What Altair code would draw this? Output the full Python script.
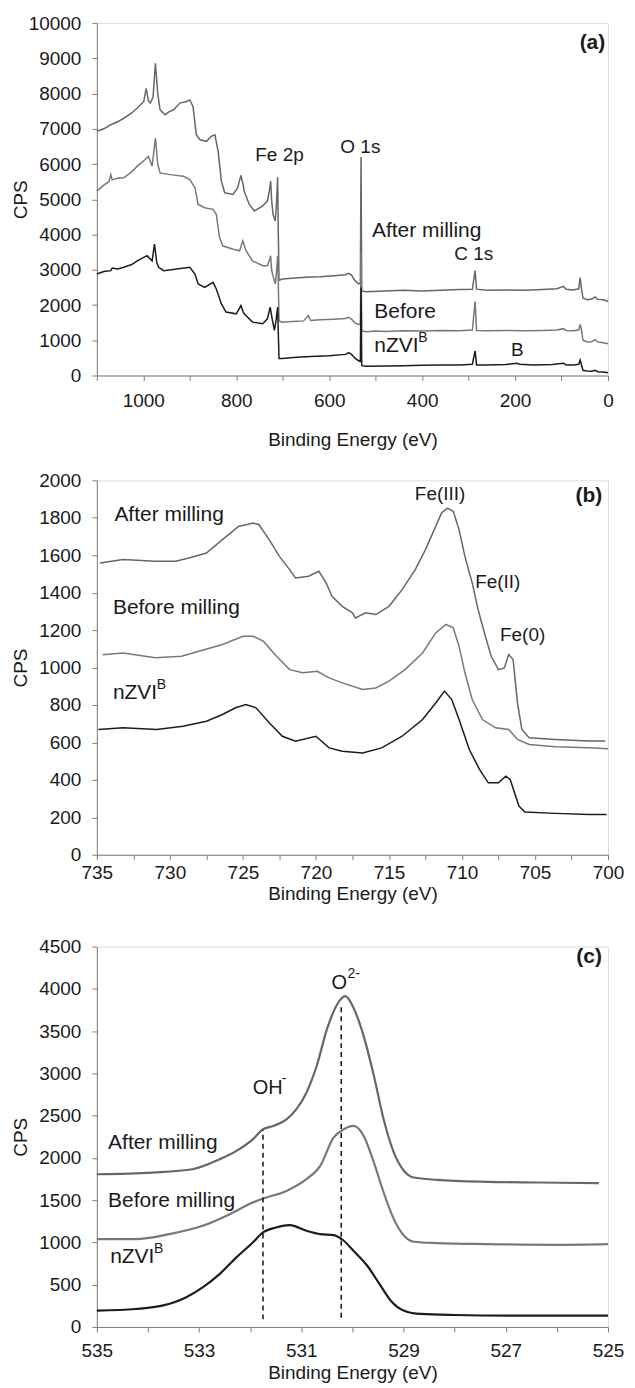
import altair as alt
import pandas as pd

FONT = "Liberation Sans"
C_AFTER = "#676767"
C_BEFORE = "#787878"
C_NZVI = "#1c1c1c"
TXT = "#1a1a1a"

# ---------------- Panel (a): survey ----------------
a_after_x = [1100, 1085, 1070, 1055, 1042, 1025, 1013, 999, 994, 989, 985, 979, 974, 969, 964, 953, 945, 935, 921, 907,
             900, 893, 886, 878, 864, 854, 846, 839, 832, 825, 807, 797, 790, 785, 783, 772, 761, 743, 733, 728,
             726, 724, 721, 716, 713, 711, 709.5, 708, 701, 680, 650, 620, 590, 565, 558, 552, 545, 537, 533, 531.5,
             530, 520, 480, 440, 400, 360, 320, 292, 286, 283, 260, 220, 180, 140, 110, 96, 90, 75, 63, 60,
             57, 54, 45, 35, 28, 22, 10, 0]
a_after_y = [6930, 7000, 7115, 7200, 7300, 7450, 7590, 7775, 8150, 7800, 7730, 7900, 8860, 8000, 7540, 7400, 7480, 7540, 7730, 7775,
             7820, 7630, 6830, 6690, 6645, 6785, 6830, 6360, 5515, 5185, 5140, 5330, 5680, 5400, 5235, 4855, 4670, 4810, 4950, 5300,
             5515, 5000, 4575, 4385, 5000, 5630, 4000, 2700, 2740, 2760, 2790, 2800, 2830, 2860, 2900, 2850, 2700, 2600, 2620, 6200,
             2400, 2380, 2400, 2420, 2400, 2420, 2440, 2450, 2980, 2450, 2420, 2430, 2420, 2440, 2460, 2530, 2450, 2430, 2460, 2780,
             2450, 2200, 2150, 2170, 2230, 2160, 2150, 2100]

a_before_x = [1100, 1085, 1074, 1070, 1067, 1055, 1042, 1025, 1013, 996, 989, 981, 974, 969, 964, 942, 914, 900, 889, 882,
              868, 850, 843, 836, 829, 807, 793, 786, 779, 765, 743, 733, 728, 726, 724, 721, 716, 713, 711, 709.5,
              708, 701, 680, 655, 645, 640, 620, 590, 565, 558, 552, 545, 537, 533, 531.5, 530, 520, 500, 480, 440,
              400, 360, 320, 292, 286, 283, 260, 220, 180, 140, 110, 96, 90, 75, 63, 60, 57, 54, 45, 35,
              28, 22, 10, 0]
a_before_y = [5233, 5400, 5500, 5700, 5550, 5600, 5610, 5780, 5940, 6130, 6220, 5940, 6740, 6000, 5750, 5700, 5655, 5560, 5330, 4855,
              4760, 4715, 4575, 3915, 3680, 3585, 3540, 3820, 3540, 3255, 3115, 3115, 3300, 3400, 3000, 2830, 2600, 3000, 3400, 2600,
              1550, 1515, 1530, 1550, 1700, 1560, 1580, 1600, 1620, 1650, 1600, 1500, 1450, 1460, 3500, 1260, 1240, 1260, 1250, 1270,
              1260, 1280, 1270, 1290, 2100, 1280, 1270, 1280, 1270, 1280, 1290, 1330, 1280, 1270, 1290, 1450, 1280, 1000, 950, 960,
              1020, 950, 930, 900]

a_nzvi_x = [1100, 1085, 1070, 1067, 1055, 1042, 1025, 1013, 992, 981, 976, 971, 967, 956, 928, 900, 889, 882, 868, 850,
            843, 832, 822, 800, 790, 785, 783, 765, 743, 733, 727, 724, 722, 718, 714, 711, 709.5, 708, 701, 670,
            640, 600, 565, 558, 552, 545, 537, 533, 531.5, 530, 520, 480, 440, 400, 360, 320, 292, 286, 283, 260,
            220, 196, 190, 160, 120, 96, 90, 75, 63, 60, 57, 54, 45, 35, 28, 22, 10, 0]
a_nzvi_y = [2880, 2950, 2975, 3050, 3020, 3070, 3150, 3255, 3400, 3255, 3730, 3200, 3070, 2975, 3020, 3070, 2880, 2600, 2500, 2645,
            2455, 2030, 1800, 1750, 1985, 1800, 1750, 1515, 1470, 1610, 1940, 1700, 1560, 1280, 1600, 1940, 1200, 480, 480, 520,
            540, 560, 600, 650, 600, 500, 420, 400, 2500, 280, 260, 270, 280, 290, 300, 300, 320, 700, 300, 300,
            310, 350, 320, 300, 310, 350, 300, 300, 320, 440, 300, 150, 130, 120, 150, 110, 100, 80]

# ---------------- Panel (b): Fe 2p ----------------
b_after_x = [734.8, 733.2, 731.0, 729.6, 728.7, 727.5, 726.4, 725.3, 724.3, 723.9, 723.2, 722.5, 721.8, 721.4, 720.5, 719.8,
             719.3, 718.9, 718.2, 717.5, 717.3, 716.6, 715.9, 715.0, 714.1, 713.2, 712.5, 711.8, 711.4, 711.0, 710.6, 710.2,
             709.8, 709.3, 708.9, 708.4, 708.0, 707.5, 707.1, 706.8, 706.5, 706.2, 705.9, 705.4, 703.6, 701.3, 700.2]
b_after_y = [1559, 1577, 1568, 1568, 1585, 1612, 1683, 1754, 1772, 1763, 1683, 1594, 1523, 1479, 1488, 1514,
             1452, 1381, 1327, 1292, 1265, 1292, 1283, 1327, 1416, 1523, 1630, 1754, 1826, 1852, 1835, 1737,
             1594, 1452, 1310, 1167, 1060, 989, 998, 1070, 1043, 811, 669, 625, 616, 607, 607]

b_before_x = [734.6, 733.2, 731.0, 729.2, 727.6, 726.4, 725.0, 724.3, 723.6, 722.7, 721.8, 720.9, 719.9, 719.1, 718.2, 716.8,
              715.9, 715.0, 713.9, 712.7, 711.8, 711.1, 710.6, 710.2, 709.8, 709.3, 708.6, 707.7, 706.8, 706.2, 705.4, 703.6,
              701.3, 700.0]
b_before_y = [1069, 1078, 1052, 1060, 1096, 1123, 1167, 1167, 1141, 1060, 989, 972, 980, 945, 918, 883,
              891, 927, 989, 1078, 1185, 1230, 1212, 1114, 972, 829, 722, 678, 669, 616, 589, 577,
              571, 566]

b_nzvi_x = [734.9, 733.2, 730.9, 729.1, 727.5, 726.4, 725.5, 724.8, 724.1, 723.2, 722.3, 721.4, 720.0, 719.1, 718.2, 716.8,
            715.5, 714.1, 712.7, 711.8, 711.2, 710.7, 710.2, 709.5, 708.8, 708.2, 707.5, 707.0, 706.7, 706.1, 705.7, 703.6,
            701.3, 700.1]
b_nzvi_y = [669, 678, 669, 687, 713, 749, 785, 802, 785, 705, 633, 607, 633, 571, 553, 544,
            571, 633, 722, 811, 874, 829, 722, 562, 456, 384, 384, 420, 402, 260, 228, 221,
            215, 215]

# ---------------- Panel (c): O 1s ----------------
c_after_x = [535.0, 533.92, 533.13, 532.6, 532.27, 531.95, 531.75, 531.55, 531.29, 531.1, 530.9, 530.7, 530.5,
             530.3, 530.14, 529.98, 529.78, 529.58, 529.39, 529.19, 528.99, 528.8, 528.34, 527.35, 526.37, 525.18]
c_after_y = [1807, 1827, 1866, 1984, 2083, 2220, 2339, 2378, 2457, 2575, 2772, 3087, 3520,
             3815, 3913, 3776, 3441, 2969, 2457, 2063, 1846, 1768, 1740, 1717, 1709, 1701]

c_before_x = [535.0, 534.24, 533.59, 532.93, 532.4, 531.95, 531.75, 531.29, 530.9, 530.63, 530.37, 530.17, 529.98,
              529.78, 529.58, 529.39, 529.19, 528.99, 528.8, 528.34, 527.35, 526.04, 525.0]
c_before_y = [1039, 1039, 1098, 1197, 1335, 1472, 1520, 1610, 1748, 1906, 2240, 2339, 2378,
              2260, 1945, 1591, 1276, 1079, 1008, 992, 980, 972, 980]

c_nzvi_x = [535.0, 534.24, 533.72, 533.26, 532.93, 532.6, 532.27, 531.95, 531.75, 531.49, 531.23, 530.9, 530.63,
            530.37, 530.17, 529.98, 529.71, 529.45, 529.25, 528.99, 528.66, 528.0, 526.69, 525.0]
c_nzvi_y = [193, 213, 252, 350, 469, 626, 823, 1000, 1118, 1177, 1205, 1138, 1098,
            1087, 1020, 902, 724, 488, 311, 193, 154, 142, 134, 134]

c_ref_x = [531.75, 530.22]
c_ref_y0 = [90, 110]
c_ref_y1 = [2330, 3800]

SERIES = ["After milling", "Before milling", "nZVI"]
COLORS = [C_AFTER, C_BEFORE, C_NZVI]
W = 512
TICK_FS = 19
TITLE_FS = 19
ANN_FS = 21


def series_df(pairs):
    rows = []
    for name, xs, ys in pairs:
        for i, (x, y) in enumerate(zip(xs, ys)):
            rows.append({"x": x, "y": y, "s": name, "i": i})
    return pd.DataFrame(rows)


class Panel:
    def __init__(self, xdom, ydom, xvals, label_mod, label_rem, yvals, lab_pad_x, title_pad_x):
        self.xdom, self.ydom = xdom, ydom
        self.xaxis = alt.Axis(values=xvals, format="d",
                              labelExpr=f"datum.value % {label_mod} == {label_rem} ? datum.label : ''",
                              grid=False, tickSize=5, tickColor="#808080", domainColor="#808080",
                              labelFont=FONT, labelFontSize=TICK_FS, labelColor=TXT, labelPadding=lab_pad_x,
                              titleFont=FONT, titleFontSize=TITLE_FS, titleFontWeight="normal", titleColor=TXT,
                              titlePadding=title_pad_x, labelFlush=False, labelOverlap=False)
        self.yaxis = alt.Axis(values=yvals, format="d", grid=False, tickSize=5, tickColor="#808080",
                              domainColor="#808080",
                              labelFont=FONT, labelFontSize=TICK_FS, labelColor=TXT, labelPadding=11,
                              titleFont=FONT, titleFontSize=TITLE_FS, titleFontWeight="normal", titleColor=TXT,
                              titleX=-76, titleBaseline="middle", labelOverlap=False, labelFlush=False)

    def x(self):
        return alt.X("x:Q", scale=alt.Scale(domain=self.xdom, reverse=True, nice=False, zero=False),
                     axis=self.xaxis, title="Binding Energy (eV)")

    def y(self):
        return alt.Y("y:Q", scale=alt.Scale(domain=self.ydom, nice=False, zero=True),
                     axis=self.yaxis, title="CPS")

    def lines(self, pairs, sw, interp="linear"):
        return alt.Chart(series_df(pairs)).mark_line(strokeWidth=sw, interpolate=interp).encode(
            x=self.x(), y=self.y(),
            color=alt.Color("s:N", scale=alt.Scale(domain=SERIES, range=COLORS), legend=None),
            order=alt.Order("i:Q"),
        )

    def text(self, rows, size=ANN_FS, weight="normal", align="left", dx=0, dy=0):
        df = pd.DataFrame(rows, columns=["x", "y", "t"])
        return alt.Chart(df).mark_text(
            font=FONT, fontSize=size, fontWeight=weight, align=align, baseline="middle",
            color=TXT, dx=dx, dy=dy
        ).encode(x=self.x(), y=self.y(), text="t:N")


# Panel (a)
P = Panel([0, 1100], [0, 10000], list(range(0, 1101, 100)), 200, 0, list(range(0, 10001, 1000)), 11, 20)
pa = alt.layer(
    P.lines([("After milling", a_after_x, a_after_y), ("Before milling", a_before_x, a_before_y),
             ("nZVI", a_nzvi_x, a_nzvi_y)], 1.5),
    P.text([[707, 6260, "Fe 2p"], [533, 6490, "O 1s"], [289, 3456, "C 1s"], [195, 736, "B"]], size=19,
           align="center"),
    P.text([[508, 4088, "After milling"], [503, 1804, "Before"], [503, 830, "nZVI"]]),
    P.text([[503, 830, "B"]], size=14, dx=44, dy=-8),
    P.text([[6, 9442, "(a)"]], size=21, weight="bold", align="right"),
).properties(width=W, height=353)

# Panel (b)
P = Panel([700, 735], [0, 2000], [700 + 2.5 * k for k in range(15)], 5, 0, list(range(0, 2001, 200)), 4, 2)
pb = alt.layer(
    P.lines([("After milling", b_after_x, b_after_y), ("Before milling", b_before_x, b_before_y),
             ("nZVI", b_nzvi_x, b_nzvi_y)], 1.5),
    P.text([[733.8, 1817, "After milling"], [733.9, 1318, "Before milling"], [733.9, 865, "nZVI"]]),
    P.text([[733.9, 865, "B"]], size=14, dx=44, dy=-8),
    P.text([[711.5, 1925, "Fe(III)"]], size=19, align="center"),
    P.text([[709.1, 1456, "Fe(II)"], [707.4, 1176, "Fe(0)"]], size=19),
    P.text([[700.4, 1915, "(b)"]], size=21, weight="bold", align="right"),
).properties(width=W, height=375)

# Panel (c)
P = Panel([525, 535], [0, 4500], list(range(525, 536)), 2, 1, list(range(0, 4501, 500)), 10, 3)
ref_df = pd.DataFrame({"x": c_ref_x, "y": c_ref_y0, "y2": c_ref_y1})
refs = alt.Chart(ref_df).mark_rule(color="#111111", strokeWidth=1.5, strokeDash=[5, 4]).encode(
    x=P.x(), y=P.y(), y2="y2:Q")
pc = alt.layer(
    P.lines([("After milling", c_after_x, c_after_y), ("Before milling", c_before_x, c_before_y),
             ("nZVI", c_nzvi_x, c_nzvi_y)], 2.2, interp="monotone"),
    refs,
    P.text([[534.78, 2181, "After milling"], [534.78, 1492, "Before milling"], [534.74, 823, "nZVI"]]),
    P.text([[534.74, 823, "B"]], size=14, dx=44, dy=-8),
    P.text([[531.95, 2831, "OH"], [530.41, 4071, "O"]], size=20),
    P.text([[531.95, 2831, "-"]], size=14, dx=29, dy=-9),
    P.text([[530.41, 4071, "2-"]], size=14, dx=16, dy=-9),
    P.text([[525.12, 4382, "(c)"]], size=21, weight="bold", align="right"),
).properties(width=W, height=381)

chart = alt.vconcat(pa, alt.vconcat(pb, pc, spacing=32), spacing=20).configure_view(
    stroke="#9a9a9a", strokeWidth=1
).configure(background="white").properties(padding={"left": 3, "top": 4, "right": 2, "bottom": 0})

chart.save("out.html", embed_options={"renderer": "svg", "actions": False})
